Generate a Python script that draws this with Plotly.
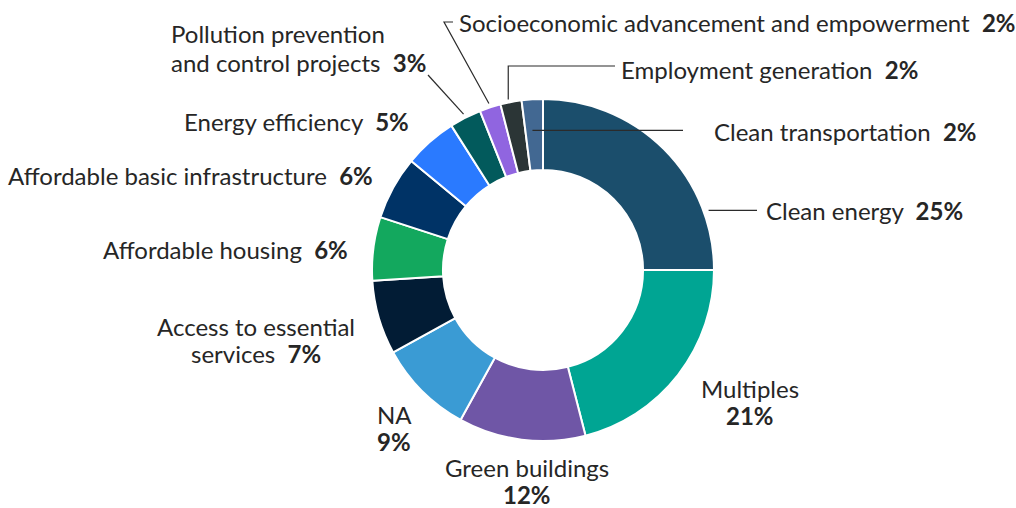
import math
import plotly.graph_objects as go

# Share of allocation by project category (percent)
categories = [
    "Clean energy", "Multiples", "Green buildings", "NA",
    "Access to essential services", "Affordable housing",
    "Affordable basic infrastructure", "Energy efficiency",
    "Pollution prevention and control projects",
    "Socioeconomic advancement and empowerment",
    "Employment generation", "Clean transportation",
]
shares = [25, 21, 12, 9, 7, 6, 6, 5, 3, 2, 2, 2]
colors = [
    "#1b4e6c", "#00a593", "#6f56a6", "#3a9bd4",
    "#021c35", "#13a85e", "#003366", "#2a7aff",
    "#025a5c", "#9065e0", "#2b3536", "#426892",
]

W, H = 1016, 508
CX, CY, R = 543, 270, 171      # ring centre and outer radius in px
HOLE = 0.585

FONT = "Lato, 'Open Sans', sans-serif"
TXT = "#262626"
FS = 24


def px(x):
    return x / W


def py(y):
    return 1 - y / H


def slice_point(name, frac, radius):
    """Pixel position inside a slice: frac in [0,1] along its arc, at radius px."""
    i = categories.index(name)
    total = sum(shares)
    start = sum(shares[:i]) / total
    a = (start + frac * shares[i] / total) * 2 * math.pi
    return CX + radius * math.sin(a), CY - radius * math.cos(a)


fig = go.Figure(go.Pie(
    labels=categories,
    values=shares,
    sort=False,
    direction="clockwise",
    rotation=0,
    hole=HOLE,
    marker=dict(colors=colors, line=dict(color="white", width=2)),
    textinfo="none",
    hoverinfo="label+percent",
    showlegend=False,
    domain=dict(x=[px(CX - R), px(CX + R)], y=[py(CY + R), py(CY - R)]),
))


def pct(name):
    return f"<b>{shares[categories.index(name)]}%</b>"


# Outside labels, one annotation per text line: (text, x, y, xanchor)
labels = [
    ("Clean energy  " + pct("Clean energy"), 764, 211, "left"),
    ("Clean transportation  " + pct("Clean transportation"), 712, 131, "left"),
    ("Employment generation  " + pct("Employment generation"), 619, 70, "left"),
    ("Socioeconomic advancement and empowerment  "
     + pct("Socioeconomic advancement and empowerment"), 457, 22, "left"),
    ("Pollution prevention", 169, 33, "left"),
    ("and control projects  " + pct("Pollution prevention and control projects"),
     169, 62, "left"),
    ("Energy efficiency  " + pct("Energy efficiency"), 411, 121, "right"),
    ("Affordable basic infrastructure  " + pct("Affordable basic infrastructure"),
     375, 175, "right"),
    ("Affordable housing  " + pct("Affordable housing"), 350, 249, "right"),
    ("Access to essential", 256, 326, "center"),
    ("services  " + pct("Access to essential services"), 256, 353, "center"),
    ("NA", 375, 414, "left"),
    (pct("NA"), 375, 441, "left"),
    ("Green buildings", 527, 467, "center"),
    (pct("Green buildings"), 527, 494, "center"),
    ("Multiples", 750, 388, "center"),
    (pct("Multiples"), 750, 415, "center"),
]
annotations = [
    dict(text=t, x=px(x), y=py(y), xref="paper", yref="paper",
         xanchor=xa, yanchor="middle", align=xa, showarrow=False,
         font=dict(family=FONT, size=FS, color=TXT))
    for t, x, y, xa in labels
]

# Leader lines from slices to their labels
LINE = dict(color="#2b2b2b", width=1.2)
leaders = []

x0, y0 = slice_point("Clean energy", 0.78, R + 5)
leaders.append([(x0, y0), (757, y0)])

x0, y0 = slice_point("Clean transportation", 0.4, 140)
leaders.append([(x0, y0), (683, y0)])

x0, y0 = slice_point("Employment generation", 0.4, R + 3)
leaders.append([(x0, y0), (x0, 66), (615, 66)])

x0, y0 = slice_point("Socioeconomic advancement and empowerment", 0.5, R + 4)
leaders.append([(x0, y0), (444, 22), (453, 22)])

x0, y0 = slice_point("Pollution prevention and control projects", 0.5, R + 4)
leaders.append([(x0, y0), (428, 75)])

shapes = []
for pts in leaders:
    path = "M " + " L ".join(f"{px(x)},{py(y)}" for x, y in pts)
    shapes.append(dict(type="path", path=path, xref="paper", yref="paper",
                       line=LINE))

fig.update_layout(
    width=W, height=H,
    margin=dict(l=0, r=0, t=0, b=0),
    paper_bgcolor="white",
    plot_bgcolor="white",
    annotations=annotations,
    shapes=shapes,
    font=dict(family=FONT, color=TXT),
)

fig.write_html("out.html")
